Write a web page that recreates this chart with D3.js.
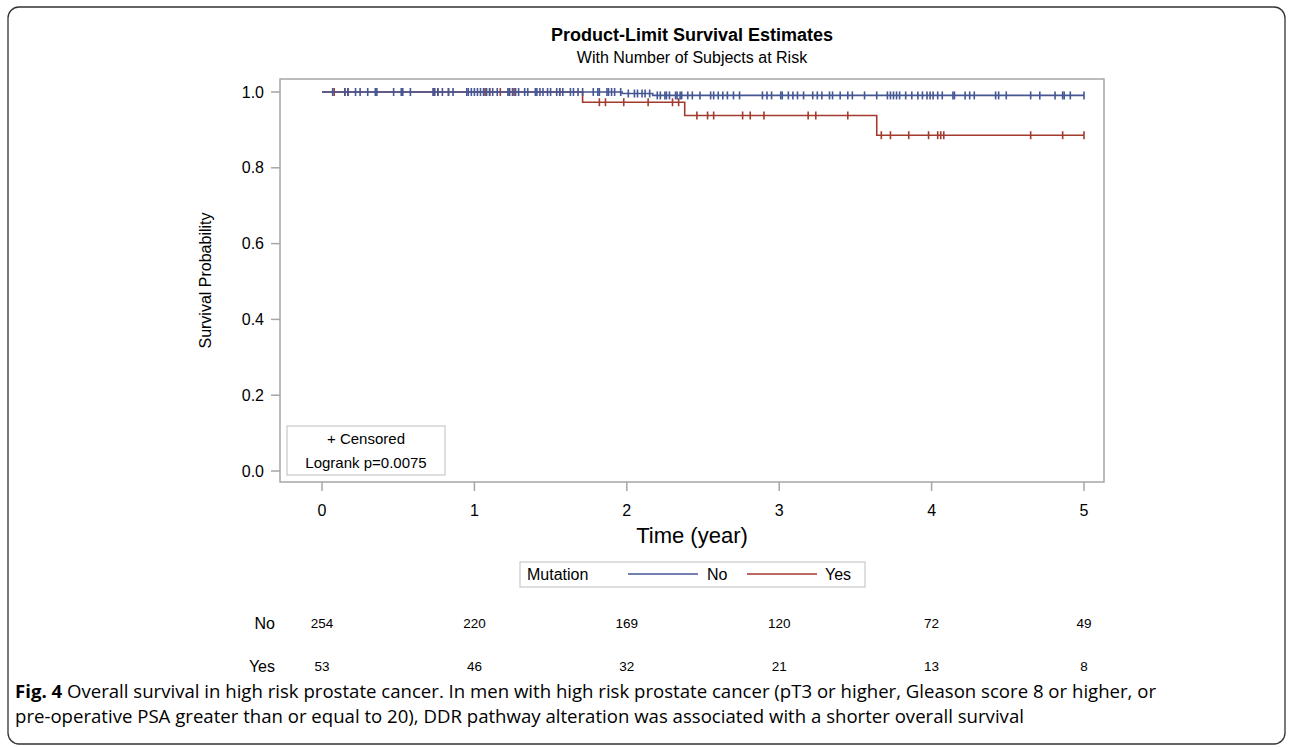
<!DOCTYPE html>
<meta charset="utf-8">
<html lang="en">
<head>
<script src="https://d3js.org/d3.v7.min.js"></script>
<style>
  body { margin: 0; background: #fff; }
  svg text { font-family: "Liberation Sans", Arial, sans-serif; fill: #000; }
  svg text.cap { font-family: "Open Sans", sans-serif; }
</style>
</head>
<body>
<svg></svg>
</body>
</html>
<script>
// survival steps (time in years, survival probability)
var noTimes = [0, 1.97, 2.17];
var noSurv = [1, 0.996, 0.991];
var yesTimes = [0, 1.71, 2.38, 3.64];
var yesSurv = [1, 0.973, 0.938, 0.886];

// censored observations
var noCensor = [0.07,0.15,0.17,0.22,0.25,0.30,0.35,0.36,0.47,0.52,0.53,0.58,0.73,0.74,0.76,0.79,0.83,0.86,
  0.95,0.96,0.98,1.00,1.02,1.04,1.06,1.08,1.10,1.12,1.15,1.22,1.23,1.25,1.27,1.29,1.33,1.35,1.40,1.41,1.43,
  1.45,1.48,1.50,1.54,1.56,1.58,1.63,1.65,1.68,1.71,1.78,1.81,1.82,1.87,1.88,1.90,1.92,1.96,2.01,2.05,2.07,
  2.10,2.12,2.15,2.20,2.22,2.25,2.26,2.28,2.32,2.33,2.35,2.36,2.40,2.43,2.48,2.55,2.57,2.60,2.63,2.66,2.70,
  2.74,2.89,2.92,2.95,3.01,3.02,3.06,3.09,3.12,3.16,3.22,3.25,3.28,3.33,3.35,3.40,3.45,3.48,3.56,3.64,3.71,
  3.73,3.75,3.77,3.79,3.83,3.87,3.91,3.94,3.97,3.99,4.01,4.04,4.07,4.14,4.15,4.22,4.25,4.28,4.42,4.44,4.49,
  4.65,4.71,4.81,4.86,4.87,4.91,5.0];
var yesCensor = [0.08,0.15,0.17,0.73,0.76,0.83,1.07,1.10,1.17,1.23,1.26,1.56,
  1.82,1.86,1.98,2.14,2.30,2.34,
  2.46,2.53,2.57,2.76,2.81,2.90,3.19,3.24,3.45,
  3.67,3.73,3.85,3.98,4.04,4.06,4.08,4.65,4.86,5.0];

// number at risk
var riskTimes = [0, 1, 2, 3, 4, 5];
var riskNo = [254, 220, 169, 120, 72, 49];
var riskYes = [53, 46, 32, 21, 13, 8];

var xTicks = [0, 1, 2, 3, 4, 5];
var yTicks = [0, 0.2, 0.4, 0.6, 0.8, 1.0];

var width = 1292, height = 747;
var svg = d3.select("svg").attr("width", width).attr("height", height);

var blue = "#445694", red = "#A23A2E", frame = "#a6a6a6";
var fL = 280, fR = 1104, fT = 79, fB = 482;

var x = d3.scaleLinear().domain([0, 5]).range([322, 1084]);
var y = d3.scaleLinear().domain([0, 1]).range([471, 92]);

// outer panel border
svg.append("rect").attr("x", 8).attr("y", 7).attr("width", 1277).attr("height", 737)
  .attr("rx", 11).attr("fill", "none").attr("stroke", "#333").attr("stroke-width", 1.3);

// titles
svg.append("text").attr("x", 692).attr("y", 41).attr("text-anchor", "middle")
  .style("font-size", "18px").style("font-weight", "bold").text("Product-Limit Survival Estimates");
svg.append("text").attr("x", 692).attr("y", 63).attr("text-anchor", "middle")
  .style("font-size", "16px").text("With Number of Subjects at Risk");

// frame
svg.append("rect").attr("x", fL).attr("y", fT).attr("width", fR - fL).attr("height", fB - fT)
  .attr("fill", "none").attr("stroke", frame).attr("stroke-width", 1.5);

// y axis
var yg = svg.append("g");
yg.selectAll("line").data(yTicks).enter().append("line")
  .attr("x1", fL - 9).attr("x2", fL).attr("y1", d => y(d)).attr("y2", d => y(d))
  .attr("stroke", frame).attr("stroke-width", 1.5);
yg.selectAll("text").data(yTicks).enter().append("text")
  .attr("x", fL - 16).attr("y", d => y(d)).attr("dy", "0.35em").attr("text-anchor", "end")
  .style("font-size", "16px").text(d => d3.format(".1f")(d));
svg.append("text").attr("transform", "translate(211," + ((fT + fB) / 2) + ") rotate(-90)")
  .attr("text-anchor", "middle").style("font-size", "16px").text("Survival Probability");

// x axis
var xg = svg.append("g");
xg.selectAll("line").data(xTicks).enter().append("line")
  .attr("x1", d => x(d)).attr("x2", d => x(d)).attr("y1", fB).attr("y2", fB + 9)
  .attr("stroke", frame).attr("stroke-width", 1.5);
xg.selectAll("text").data(xTicks).enter().append("text")
  .attr("x", d => x(d)).attr("y", 516).attr("text-anchor", "middle")
  .style("font-size", "16px").text(d => d);
svg.append("text").attr("x", 692).attr("y", 543).attr("text-anchor", "middle")
  .style("font-size", "22px").text("Time (year)");

// curves
function stepPoints(times, surv) {
  var pts = times.map((t, i) => [t, surv[i]]);
  pts.push([5.0, surv[surv.length - 1]]);
  return pts;
}
function survAt(times, surv, t) {
  var s = surv[0];
  times.forEach((tt, i) => { if (tt <= t) s = surv[i]; });
  return s;
}
var line = d3.line().x(d => x(d[0])).y(d => y(d[1])).curve(d3.curveStepAfter);

var groups = [
  {times: yesTimes, surv: yesSurv, cens: yesCensor, color: red},
  {times: noTimes, surv: noSurv, cens: noCensor, color: blue}
];
groups.forEach(g => {
  svg.append("path").attr("d", line(stepPoints(g.times, g.surv)))
    .attr("fill", "none").attr("stroke", g.color).attr("stroke-width", 1.6);
  svg.append("g").selectAll("line").data(g.cens).enter().append("line")
    .attr("x1", d => x(d)).attr("x2", d => x(d))
    .attr("y1", d => y(survAt(g.times, g.surv, d)) - 4)
    .attr("y2", d => y(survAt(g.times, g.surv, d)) + 4)
    .attr("stroke", g.color).attr("stroke-width", 1.6);
});

// inset box
svg.append("rect").attr("x", 287).attr("y", 426).attr("width", 158).attr("height", 49)
  .attr("fill", "#fff").attr("stroke", "#c8c8c8").attr("stroke-width", 1.2);
svg.append("text").attr("x", 366).attr("y", 444).attr("text-anchor", "middle")
  .style("font-size", "15px").text("+ Censored");
svg.append("text").attr("x", 366).attr("y", 468).attr("text-anchor", "middle")
  .style("font-size", "15px").text("Logrank p=0.0075");

// legend
svg.append("rect").attr("x", 520).attr("y", 562).attr("width", 345).attr("height", 25)
  .attr("fill", "#fff").attr("stroke", "#c8c8c8").attr("stroke-width", 1.2);
svg.append("text").attr("x", 527).attr("y", 580).style("font-size", "16px").text("Mutation");
svg.append("line").attr("x1", 628).attr("x2", 698).attr("y1", 574).attr("y2", 574)
  .attr("stroke", blue).attr("stroke-width", 1.6);
svg.append("text").attr("x", 707).attr("y", 580).style("font-size", "16px").text("No");
svg.append("line").attr("x1", 747).attr("x2", 817).attr("y1", 574).attr("y2", 574)
  .attr("stroke", red).attr("stroke-width", 1.6);
svg.append("text").attr("x", 825).attr("y", 580).style("font-size", "16px").text("Yes");

// risk table
var rows = [{label: "No", vals: riskNo, y: 629}, {label: "Yes", vals: riskYes, y: 672}];
rows.forEach(r => {
  svg.append("text").attr("x", 275).attr("y", r.y).attr("text-anchor", "end")
    .style("font-size", "16px").text(r.label);
  svg.append("g").selectAll("text").data(r.vals).enter().append("text")
    .attr("x", (d, i) => x(riskTimes[i])).attr("y", r.y - 1).attr("text-anchor", "middle")
    .style("font-size", "13.5px").text(d => d);
});

// caption
var cap1 = svg.append("text").attr("class", "cap").attr("x", 15).attr("y", 698).style("font-size", "18.6px");
cap1.append("tspan").style("font-weight", "bold").text("Fig. 4");
cap1.append("tspan").text(" Overall survival in high risk prostate cancer. In men with high risk prostate cancer (pT3 or higher, Gleason score 8 or higher, or");
svg.append("text").attr("class", "cap").attr("x", 15).attr("y", 723).style("font-size", "18.6px")
  .text("pre-operative PSA greater than or equal to 20), DDR pathway alteration was associated with a shorter overall survival");
</script>
